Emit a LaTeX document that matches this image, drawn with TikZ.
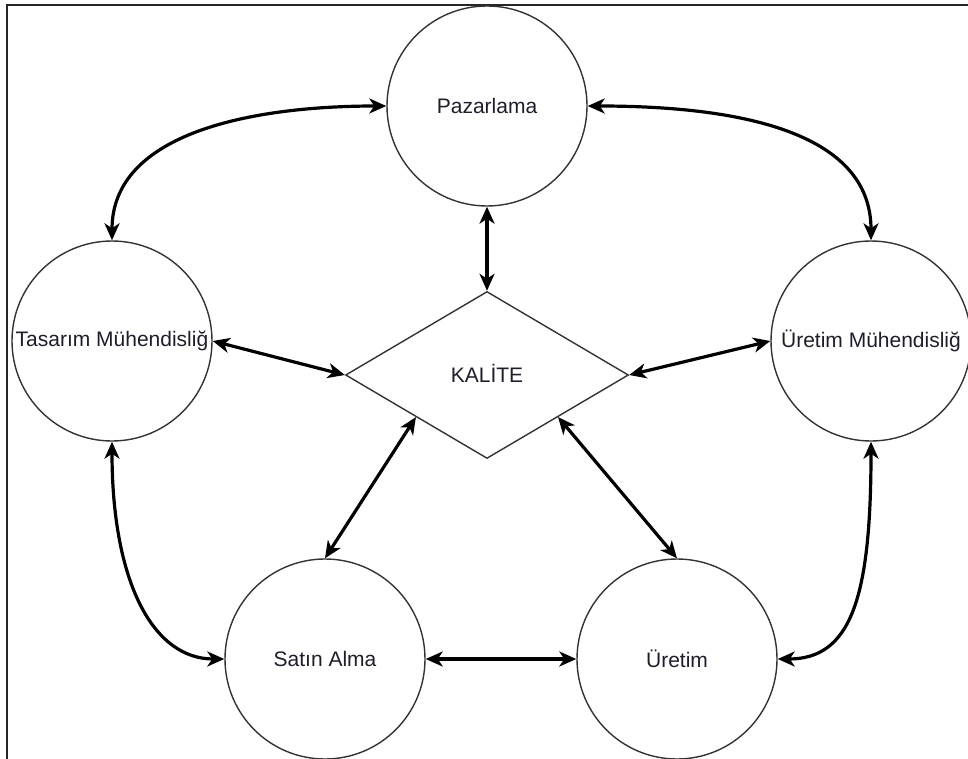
\documentclass[tikz,border=0pt]{standalone}
\usepackage{fontspec}
\setmainfont{Liberation Sans}
\usetikzlibrary{shapes.geometric,arrows.meta}
\definecolor{edgegray}{HTML}{333333}
\definecolor{inkdark}{HTML}{1E1E2A}
\begin{document}
\begin{tikzpicture}[x=1pt,y=-1pt,
  dept/.style={circle, draw=edgegray, line width=1.4pt, minimum size=200pt,
    inner sep=0pt, text=inkdark, font=\fontsize{21}{25}\selectfont},
  hub/.style={diamond, draw=edgegray, line width=1.4pt, minimum width=283pt,
    minimum height=167pt, inner sep=0pt, text=inkdark,
    font=\fontsize{21}{25}\selectfont},
  link/.style={line width=3.2pt, black,
    {Stealth[length=17pt,width=15pt,inset=5pt]}-{Stealth[length=17pt,width=15pt,inset=5pt]}}]
  % canvas and frame
  \fill[white] (0,0) rectangle (968,759);
  \useasboundingbox (0,0) rectangle (968,759);
  \draw[line width=2.4pt, black!85] (7,760) -- (7,5) -- (969,5);

  % departments
  \node[dept] (paz) at (487,106) {Pazarlama};
  \node[dept] (tas) at (112,341) {Tasarım Mühendisliğ};
  \node[dept] (um)  at (871,341) {Üretim Mühendisliğ};
  \node[dept] (sa)  at (325,659) {Satın Alma};
  \node[dept] (ur)  at (677,659) {Üretim};
  \node[hub]  (k)   at (487,375) {\raisebox{4pt}{KALİTE}};

  % links around the ring
  \draw[link] (paz.west) .. controls +(-133,0) and +(0,-108) .. (tas.north);
  \draw[link] (paz.east) .. controls +(173,0) and +(0,-100) .. (um.north);
  \draw[link] (tas.south) .. controls +(0,139) and +(-72,0) .. (sa.west);
  \draw[link] (um.south) .. controls +(0,157) and +(73,0) .. (ur.east);
  \draw[link] (sa.east) -- (ur.west);

  % links to quality
  \draw[link] (paz.south) -- (k.north);
  \draw[link] (tas.east) -- (k.west);
  \draw[link] (k.east) -- (um.west);
  \draw[link] (sa.north) -- (k.south west);
  \draw[link] (ur.north) -- (k.south east);
\end{tikzpicture}
\end{document}
